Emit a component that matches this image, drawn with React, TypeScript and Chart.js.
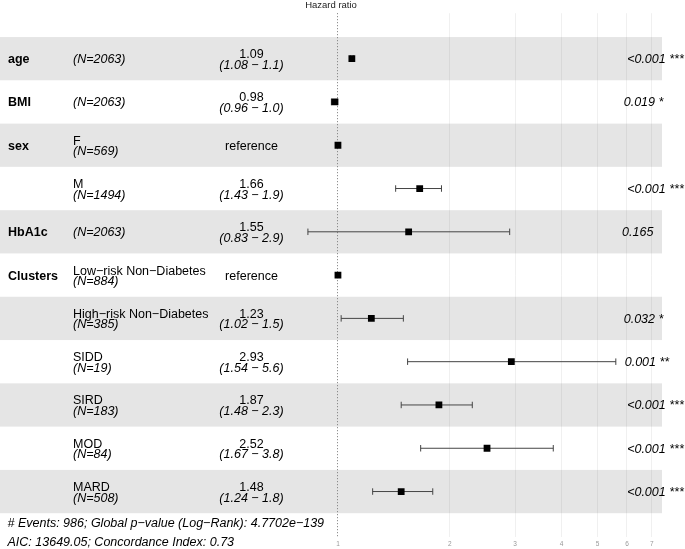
import React, { useEffect, useRef } from 'react';
import { Chart, registerables } from 'chart.js';

Chart.register(...registerables);

// ---- data ----
const variables = ['age', 'BMI', 'sex', '', 'HbA1c', 'Clusters', '', '', '', '', ''];
const levels = ['', '', 'F', 'M', '', 'Low−risk Non−Diabetes', 'High−risk Non−Diabetes', 'SIDD', 'SIRD', 'MOD', 'MARD'];
const counts = [2063, 2063, 569, 1494, 2063, 884, 385, 19, 183, 84, 508];
const hazardRatios = [1.09, 0.98, 1, 1.66, 1.55, 1, 1.23, 2.93, 1.87, 2.52, 1.48];
const ciLow: (number | null)[] = [1.08, 0.96, null, 1.43, 0.83, null, 1.02, 1.54, 1.48, 1.67, 1.24];
const ciHigh: (number | null)[] = [1.1, 1.0, null, 1.9, 2.9, null, 1.5, 5.6, 2.3, 3.8, 1.8];
const pValues = ['<0.001', '0.019', '', '<0.001', '0.165', '', '0.032', '0.001', '<0.001', '<0.001', '<0.001'];
const stars = ['***', '*', '', '***', '', '', '*', '**', '***', '***', '***'];
const axisTicks = [1, 2, 3, 4, 5, 6, 7];
const titleText = 'Hazard ratio';
const footerLines = [
  '# Events: 986; Global p−value (Log−Rank): 4.7702e−139',
  'AIC: 13649.05; Concordance Index: 0.73',
];

const FONT = "'Liberation Sans', Arial, Helvetica, sans-serif";
const W = 685;
const H = 549;

export default function App() {
  const canvasRef = useRef<HTMLCanvasElement | null>(null);

  useEffect(() => {
    const canvas = canvasRef.current;
    if (!canvas) return;
    const nRows = hazardRatios.length;
    const lows = ciLow.filter((v) => v != null) as number[];
    const highs = ciHigh.filter((v) => v != null) as number[];
    const lnLo = Math.log(Math.min(...lows));
    const lnHi = Math.log(Math.max(...highs));
    const d = lnHi - lnLo;
    const xMin = Math.exp(lnLo - d);
    const xMax = Math.exp(lnHi + 0.15 * d);
    const maxHigh = Math.max(...highs);

    const forestPlugin = {
      id: 'forest',
      beforeDatasetsDraw(chart: any) {
        const { ctx, chartArea } = chart;
        const x = chart.scales.x;
        const y = chart.scales.y;
        ctx.save();
        // alternating bands
        ctx.fillStyle = 'rgba(0,0,0,0.1)';
        for (let i = 0; i < nRows; i++) {
          if (i % 2 === 0) {
            const top = y.getPixelForValue(i + 1 - 0.5);
            const bot = y.getPixelForValue(i + 1 + 0.5);
            ctx.fillRect(chartArea.left, top, chartArea.right - chartArea.left, bot - top);
          }
        }
        // dotted reference line at HR = 1
        const x1 = Math.floor(x.getPixelForValue(1)) + 0.5;
        ctx.strokeStyle = '#777';
        ctx.lineWidth = 1;
        ctx.setLineDash([1, 2]);
        ctx.beginPath();
        ctx.moveTo(x1, chartArea.top);
        ctx.lineTo(x1, chartArea.bottom);
        ctx.stroke();
        ctx.setLineDash([]);
        // error bars
        ctx.strokeStyle = '#444';
        ctx.lineWidth = 1;
        for (let i = 0; i < nRows; i++) {
          const lo = ciLow[i];
          const hi = ciHigh[i];
          if (lo == null || hi == null) continue;
          const cy = y.getPixelForValue(i + 1);
          const capT = y.getPixelForValue(i + 1 - 0.075);
          const capB = y.getPixelForValue(i + 1 + 0.075);
          const xl = x.getPixelForValue(lo);
          const xh = x.getPixelForValue(hi);
          ctx.beginPath();
          ctx.moveTo(xl, cy);
          ctx.lineTo(xh, cy);
          ctx.moveTo(xl, capT);
          ctx.lineTo(xl, capB);
          ctx.moveTo(xh, capT);
          ctx.lineTo(xh, capB);
          ctx.stroke();
        }
        ctx.restore();
      },
      afterDraw(chart: any) {
        const { ctx } = chart;
        const x = chart.scales.x;
        const y = chart.scales.y;
        ctx.save();
        ctx.fillStyle = '#000';
        ctx.textBaseline = 'alphabetic';
        const fs = 12.5;
        const varX = 8;
        const levelX = 73;
        const estX = 251.5;
        const pAnchor = x.getPixelForValue(maxHigh);
        for (let i = 0; i < nRows; i++) {
          const cy = y.getPixelForValue(i + 1);
          // variable name
          if (variables[i]) {
            ctx.font = `bold ${fs}px ${FONT}`;
            ctx.textAlign = 'left';
            ctx.fillText(variables[i], varX, cy + 4.5);
          }
          // level + N
          ctx.textAlign = 'left';
          const nText = `(N=${counts[i]})`;
          if (levels[i]) {
            ctx.font = `${fs}px ${FONT}`;
            ctx.fillText(levels[i], levelX, cy - 0.5);
            ctx.font = `italic ${fs}px ${FONT}`;
            ctx.fillText(nText, levelX, cy + 10);
          } else {
            ctx.font = `italic ${fs}px ${FONT}`;
            ctx.fillText(nText, levelX, cy + 4);
          }
          // estimate + CI
          ctx.textAlign = 'center';
          const lo = ciLow[i];
          const hi = ciHigh[i];
          if (lo == null || hi == null) {
            ctx.font = `${fs}px ${FONT}`;
            ctx.fillText('reference', estX, cy + 5);
          } else {
            ctx.font = `${fs}px ${FONT}`;
            ctx.fillText(hazardRatios[i].toFixed(2), estX, cy - 0.5);
            ctx.font = `italic ${fs}px ${FONT}`;
            ctx.fillText(`(${lo.toFixed(2)} − ${hi.toFixed(1)})`, estX, cy + 10);
          }
          // p-value + stars
          const pText = pValues[i] ? (stars[i] ? `${pValues[i]} ${stars[i]}` : pValues[i]) : '';
          if (pText) {
            ctx.font = `italic ${fs}px ${FONT}`;
            ctx.textAlign = 'left';
            const w = ctx.measureText(pText).width;
            ctx.fillText(pText, pAnchor + 0.2 * w, cy + 4.5);
          }
        }
        // footer
        const bottomEdge = y.getPixelForValue(nRows + 0.5);
        ctx.font = `italic ${fs}px ${FONT}`;
        ctx.textAlign = 'left';
        ctx.fillText(footerLines[0], 7.5, bottomEdge + 14.1);
        ctx.fillText(footerLines[1], 7.5, bottomEdge + 32.5);
        ctx.restore();
      },
    };

    const chart = new Chart(canvas, {
      type: 'scatter',
      data: {
        datasets: [
          {
            data: hazardRatios.map((v, i) => ({ x: v, y: i + 1 })),
            pointStyle: 'rect',
            pointRadius: 4.8,
            pointHoverRadius: 4.8,
            backgroundColor: '#000',
            borderWidth: 0,
          },
        ],
      },
      options: {
        responsive: false,
        animation: false,
        events: [],
        layout: { autoPadding: false, padding: { left: 0, right: 23, top: 0, bottom: 0 } },
        plugins: {
          legend: { display: false },
          tooltip: { enabled: false },
          title: {
            display: true,
            text: titleText,
            fullSize: false,
            color: '#222',
            font: { family: FONT, size: 9.5, weight: 'normal' },
            padding: { top: 0, bottom: 1.8 },
          },
        },
        scales: {
          x: {
            type: 'logarithmic',
            min: xMin,
            max: xMax,
            afterBuildTicks: (scale: any) => {
              scale.ticks = axisTicks.map((v) => ({ value: v }));
            },
            afterFit: (scale: any) => {
              scale.height = 12;
              scale.paddingLeft = 0;
              scale.paddingRight = 0;
            },
            border: { display: false },
            grid: {
              drawTicks: false,
              color: (c: any) => (c.tick && c.tick.value === 1 ? 'rgba(0,0,0,0)' : 'rgba(0,0,0,0.06)'),
              lineWidth: 1,
            },
            ticks: {
              autoSkip: false,
              maxRotation: 0,
              padding: 3,
              color: '#999',
              font: { family: FONT, size: 6.5 },
              callback: (v: any) => String(v),
            },
          },
          y: {
            type: 'linear',
            display: false,
            reverse: true,
            min: 0.5 - 0.05 * hazardRatios.length,
            max: hazardRatios.length + 0.5 + 0.05 * hazardRatios.length,
          },
        },
      },
      plugins: [forestPlugin],
    } as any);

    return () => {
      chart.destroy();
    };
  }, []);

  return (
    <div style={{ position: 'absolute', left: 0, top: 0, width: W, height: H, background: '#fff' }}>
      <canvas ref={canvasRef} width={W} height={H} style={{ display: 'block', width: W, height: H }} />
    </div>
  );
}
